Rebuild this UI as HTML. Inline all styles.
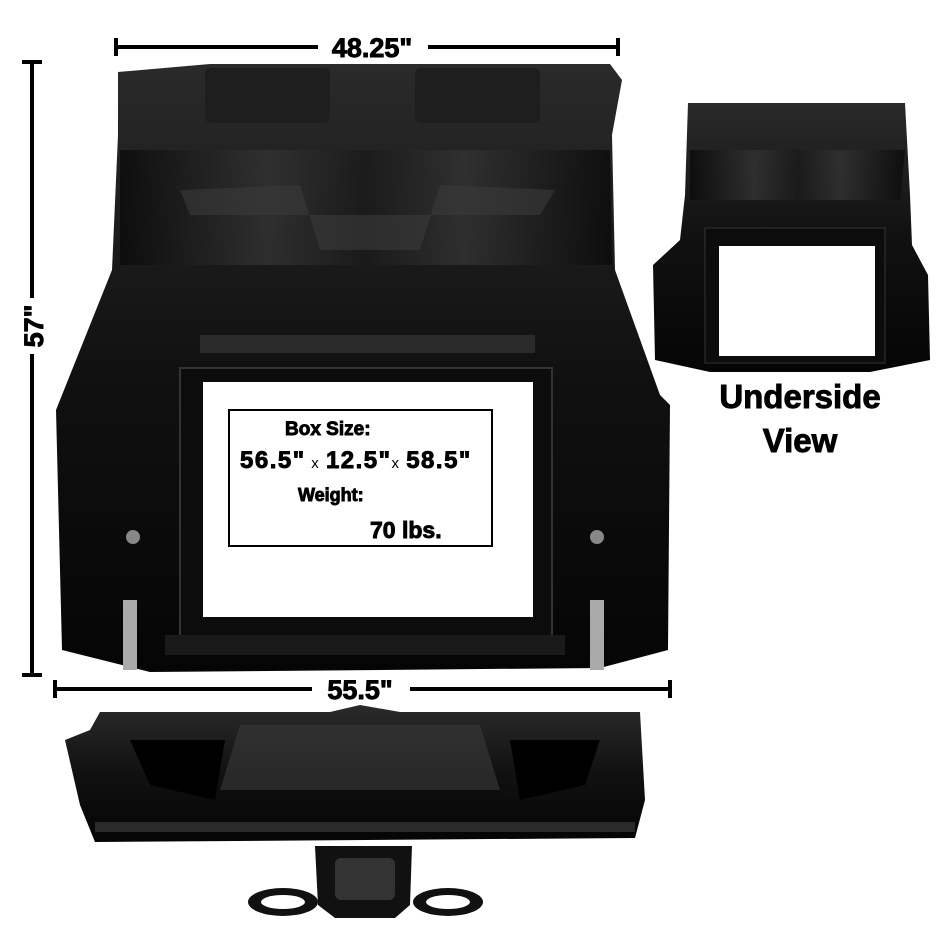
<!DOCTYPE html>
<html><head><meta charset="utf-8"><style>
html,body{margin:0;padding:0;background:#fff;}
svg{display:block;}
text{font-family:"Liberation Sans",sans-serif;font-weight:bold;fill:#000;stroke:#000;stroke-width:0.9;}
</style></head><body>
<svg width="950" height="950" viewBox="0 0 950 950" xmlns="http://www.w3.org/2000/svg">
<defs>
<linearGradient id="g1" x1="0" y1="0" x2="0" y2="1">
<stop offset="0" stop-color="#2a2a2a"/><stop offset="0.5" stop-color="#111"/><stop offset="1" stop-color="#050505"/>
</linearGradient>
<linearGradient id="g2" x1="0" y1="0" x2="1" y2="0">
<stop offset="0" stop-color="#0a0a0a"/><stop offset="0.3" stop-color="#333"/><stop offset="0.5" stop-color="#1a1a1a"/><stop offset="0.7" stop-color="#333"/><stop offset="1" stop-color="#0a0a0a"/>
</linearGradient>
</defs>
<!-- top dimension -->
<line x1="116" y1="47" x2="618" y2="47" stroke="#000" stroke-width="4"/>
<line x1="116" y1="38" x2="116" y2="56" stroke="#000" stroke-width="4"/>
<line x1="618" y1="38" x2="618" y2="56" stroke="#000" stroke-width="4"/>
<rect x="318" y="32" width="110" height="28" fill="#fff"/>
<text x="372" y="57" font-size="27" text-anchor="middle">48.25"</text>
<!-- left dimension -->
<line x1="32" y1="62" x2="32" y2="675" stroke="#000" stroke-width="4"/>
<line x1="22" y1="62" x2="42" y2="62" stroke="#000" stroke-width="4"/>
<line x1="22" y1="675" x2="42" y2="675" stroke="#000" stroke-width="4"/>
<rect x="18" y="298" width="28" height="56" fill="#fff"/>
<text x="0" y="0" font-size="27" text-anchor="middle" transform="translate(43,326) rotate(-90)">57"</text>
<!-- main part -->
<path d="M118 72 L210 64 L610 64 L622 80 L612 135 L615 270 L660 395 L670 405 L668 650 L600 668 L150 672 L62 650 L56 410 L112 270 L118 135 Z" fill="url(#g1)"/>
<path d="M120 150 L610 150 L612 265 L120 265 Z" fill="url(#g2)" opacity="0.8"/>
<rect x="205" y="68" width="125" height="55" rx="6" fill="#1e1e1e"/>
<rect x="415" y="68" width="125" height="55" rx="6" fill="#1e1e1e"/>
<path d="M180 190 L300 185 L320 250 L420 250 L440 185 L555 190 L540 215 L190 215 Z" fill="#3a3a3a" opacity="0.6"/>
<rect x="200" y="335" width="335" height="18" fill="#2a2a2a"/>
<!-- window frame -->
<rect x="180" y="368" width="372" height="270" fill="#0c0c0c" stroke="#333" stroke-width="2"/>
<rect x="203" y="382" width="330" height="235" fill="#fff"/>
<rect x="165" y="635" width="400" height="20" fill="#1a1a1a"/>
<circle cx="133" cy="537" r="7" fill="#888"/><circle cx="597" cy="537" r="7" fill="#888"/>
<rect x="123" y="600" width="14" height="70" fill="#aaa"/><rect x="590" y="600" width="14" height="70" fill="#aaa"/>
<!-- text box -->
<rect x="229" y="410" width="263" height="136" fill="#fff" stroke="#000" stroke-width="2"/>
<text x="285" y="435" font-size="19">Box Size:</text>
<text x="240" y="468" font-size="24" letter-spacing="1.5">56.5"<tspan font-size="15" font-weight="normal" stroke-width="0"> x </tspan>12.5"<tspan font-size="15" font-weight="normal" stroke-width="0">x </tspan>58.5"</text>
<text x="298" y="501" font-size="18">Weight:</text>
<text x="370" y="538" font-size="23">70 lbs.</text>
<!-- bottom dimension -->
<line x1="55" y1="689" x2="670" y2="689" stroke="#000" stroke-width="4"/>
<line x1="55" y1="680" x2="55" y2="698" stroke="#000" stroke-width="4"/>
<line x1="670" y1="680" x2="670" y2="698" stroke="#000" stroke-width="4"/>
<rect x="312" y="675" width="98" height="28" fill="#fff"/>
<text x="360" y="699" font-size="27" text-anchor="middle">55.5"</text>
<!-- bottom part -->
<path d="M100 712 L330 712 L360 705 L400 712 L640 712 L645 800 L635 838 L95 842 L80 805 L65 740 L90 730 Z" fill="url(#g1)"/>
<path d="M240 725 L480 725 L500 790 L220 790 Z" fill="#3a3a3a" opacity="0.6"/>
<path d="M130 740 L225 740 L215 800 L150 785 Z" fill="#000"/>
<path d="M510 740 L600 740 L585 785 L520 800 Z" fill="#000"/>
<rect x="95" y="822" width="540" height="10" fill="#2a2a2a"/>
<!-- small part -->
<path d="M315 846 L412 846 L410 905 L395 918 L335 918 L318 905 Z" fill="#111"/>
<rect x="335" y="858" width="60" height="42" rx="6" fill="#333"/>
<ellipse cx="283" cy="902" rx="35" ry="14" fill="#111"/><ellipse cx="283" cy="902" rx="22" ry="7" fill="#fff"/>
<ellipse cx="448" cy="902" rx="35" ry="14" fill="#111"/><ellipse cx="448" cy="902" rx="22" ry="7" fill="#fff"/>
<!-- underside view -->
<path d="M688 103 L905 103 L910 195 L912 245 L928 275 L930 360 L870 372 L710 372 L655 360 L653 265 L680 240 L685 195 Z" fill="url(#g1)"/>
<path d="M690 150 L905 150 L900 200 L690 200 Z" fill="url(#g2)" opacity="0.8"/>
<rect x="705" y="228" width="180" height="135" fill="#0c0c0c" stroke="#333"/>
<rect x="719" y="246" width="156" height="110" fill="#fff"/>
<text x="800" y="408" font-size="33" text-anchor="middle">Underside</text>
<text x="800" y="452" font-size="33" text-anchor="middle">View</text>
</svg>
</body></html>
